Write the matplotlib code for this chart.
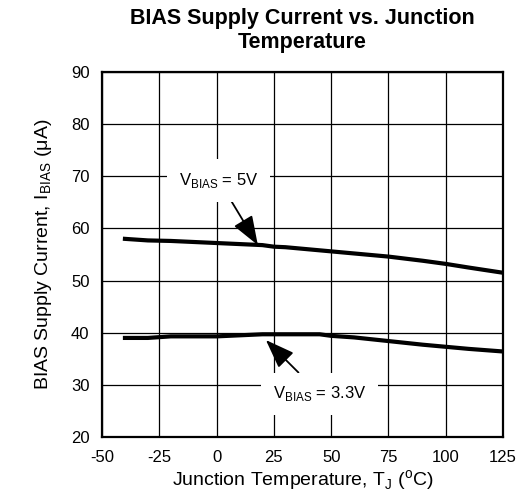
import matplotlib
matplotlib.use('Agg')
import matplotlib.pyplot as plt

plt.rcParams['font.family'] = ['Liberation Sans', 'DejaVu Sans']
plt.rcParams['axes.unicode_minus'] = False

# junction temperature (C) and BIAS supply current (uA)
temp_5v = [-40, -30, -20, -10, 0, 10, 20, 25, 30, 40, 50, 60, 75, 90, 100, 110, 125]
cur_5v = [58.0, 57.7, 57.6, 57.4, 57.2, 57.0, 56.8, 56.5, 56.4, 56.0, 55.6, 55.2, 54.6, 53.8, 53.2, 52.5, 51.5]

temp_33v = [-40, -30, -20, -10, 0, 10, 20, 30, 45, 50, 60, 75, 90, 100, 110, 125]
cur_33v = [39.0, 39.0, 39.3, 39.3, 39.3, 39.5, 39.7, 39.7, 39.7, 39.4, 39.1, 38.4, 37.7, 37.3, 36.9, 36.4]

x_ticks = [-50, -25, 0, 25, 50, 75, 100, 125]
y_ticks = [20, 30, 40, 50, 60, 70, 80, 90]

fig = plt.figure(figsize=(5.18, 5.0), dpi=100)
ax = fig.add_axes([0.197, 0.126, 0.774, 0.730])

ax.plot(temp_5v, cur_5v, color='black', lw=3.0, zorder=3)
ax.plot(temp_33v, cur_33v, color='black', lw=3.0, zorder=3)

ax.set_xlim(-50, 125)
ax.set_ylim(20, 90)
ax.set_xticks(x_ticks)
ax.set_yticks(y_ticks)
ax.tick_params(length=0, labelsize=12, pad=9)
ax.grid(True, color='black', lw=0.9)
for s in ax.spines.values():
    s.set_linewidth(1.6)

ax.set_title('BIAS Supply Current vs. Junction\nTemperature', fontsize=15.5,
             fontweight='bold', pad=17, linespacing=1.2)
ax.set_xlabel(r'Junction Temperature, T$_{\mathregular{J}}$ ($^{\mathregular{o}}$C)',
              fontsize=14, labelpad=3)
ax.set_ylabel(r'BIAS Supply Current, I$_{\mathregular{BIAS}}$ ($\mathregular{\mu}$A)',
              fontsize=14, labelpad=12)

arrow = dict(arrowstyle='-|>,head_length=1.5,head_width=0.55', color='black',
             lw=1.3, shrinkA=0, shrinkB=0)
box = dict(boxstyle='square,pad=0.7', fc='white', ec='none')
ax.annotate(r'V$_{\mathregular{BIAS}}$ = 5V', xy=(18, 56.8), xytext=(1, 69.2),
            ha='center', va='center', fontsize=12, bbox=box, arrowprops=arrow,
            zorder=4)
ax.annotate(r'V$_{\mathregular{BIAS}}$ = 3.3V', xy=(21.5, 38.6), xytext=(45, 28.3),
            ha='center', va='center', fontsize=12, bbox=box, arrowprops=arrow,
            zorder=4)

fig.savefig('out.png', dpi=100)
